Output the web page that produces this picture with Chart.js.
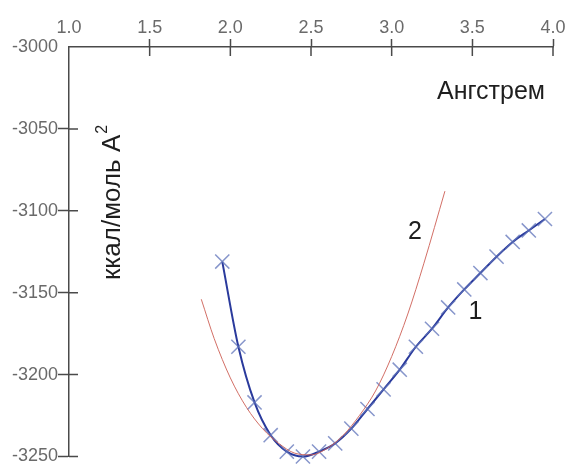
<!DOCTYPE html>
<html>
<head>
<meta charset="utf-8">
<script src="https://cdn.jsdelivr.net/npm/chart.js@4.4.1/dist/chart.umd.min.js"></script>
<style>
  html, body { margin: 0; padding: 0; background: #fff; }
  #wrap { width: 568px; height: 468px; }
</style>
</head>
<body>
<div id="wrap"><canvas id="energyChart" width="568" height="468"></canvas></div>
<script>
/*---------------------
 ----- DATA -----
 ---------------------*/
// curve 1 : calculated points (blue, x markers)
var distance1 = [1.95, 2.05, 2.15, 2.25, 2.35, 2.45, 2.55, 2.65, 2.75, 2.85, 2.95,
                 3.05, 3.15, 3.25, 3.35, 3.45, 3.55, 3.65, 3.75, 3.85, 3.95];
var energy1 = [-3131, -3183, -3217, -3237, -3247, -3250, -3247, -3242, -3233, -3221, -3209,
               -3197, -3183, -3172, -3159, -3148, -3138, -3128, -3119, -3112, -3105];

// curve 2 : fitted curve (thin red)
var distance2 = [1.82, 1.9, 2.0, 2.1, 2.2, 2.3, 2.4, 2.5, 2.6, 2.7, 2.8, 2.9, 3.0, 3.1, 3.2, 3.33];
var energy2 = [-3154, -3178, -3202, -3220, -3233, -3242, -3248, -3249, -3245, -3237, -3225,
               -3210, -3189, -3163, -3132, -3088];

var xTicks = [1.0, 1.5, 2.0, 2.5, 3.0, 3.5, 4.0];
var yTicks = [-3000, -3050, -3100, -3150, -3200, -3250];

var curveLabels = [
	{ text: '1', x: 3.52, y: -3162 },
	{ text: '2', x: 3.145, y: -3113 }
];

var axisColor = '#4a4a4a';
var tickFont = { family: 'Liberation Sans, Arial, sans-serif', size: 18 };

function toPoints(xs, ys) {
	var pts = [];
	for (var i = 0; i < xs.length; i++) {
		pts.push({ x: xs[i], y: ys[i] });
	}
	return pts;
}

/*---------------------
 ----- PLUGINS -----
 ---------------------*/
// ticks cross the axis line: draw the inner half here
var crossTicks = {
	id: 'crossTicks',
	afterDraw: function (chart) {
		var ctx = chart.ctx;
		var area = chart.chartArea;
		var xs = chart.scales.x, ys = chart.scales.y;
		ctx.save();
		ctx.strokeStyle = axisColor;
		ctx.lineWidth = 1.5;
		ctx.beginPath();
		xTicks.forEach(function (v) {
			if (v === xs.min) return;
			var px = xs.getPixelForValue(v);
			ctx.moveTo(px, area.top);
			ctx.lineTo(px, area.top + 9);
		});
		yTicks.forEach(function (v) {
			if (v === ys.max) return;
			var py = ys.getPixelForValue(v);
			ctx.moveTo(area.left, py);
			ctx.lineTo(area.left + 9, py);
		});
		ctx.stroke();
		ctx.restore();
	}
};

// axis titles and curve numbers sit inside the plot
var titles = {
	id: 'titles',
	afterDraw: function (chart) {
		var ctx = chart.ctx;
		var area = chart.chartArea;
		var xs = chart.scales.x, ys = chart.scales.y;
		ctx.save();
		ctx.fillStyle = '#1e1e1e';
		ctx.textBaseline = 'alphabetic';

		ctx.font = '25px "Liberation Sans", Arial, sans-serif';
		ctx.textAlign = 'right';
		ctx.fillText('Ангстрем', area.right - 8, area.top + 52);

		// rotated y title with superscript
		ctx.save();
		ctx.translate(area.left + 51, 280);
		ctx.rotate(-Math.PI / 2);
		ctx.textAlign = 'left';
		ctx.font = '26px "Liberation Sans", Arial, sans-serif';
		var main = 'ккал/моль A';
		ctx.fillText(main, 0, 0);
		var w = ctx.measureText(main).width;
		ctx.font = '16px "Liberation Sans", Arial, sans-serif';
		ctx.fillText('2', w + 1, -13);
		ctx.restore();

		ctx.font = '25px "Liberation Sans", Arial, sans-serif';
		ctx.textAlign = 'center';
		ctx.textBaseline = 'middle';
		curveLabels.forEach(function (l) {
			ctx.fillText(l.text, xs.getPixelForValue(l.x), ys.getPixelForValue(l.y));
		});
		ctx.restore();
	}
};

/*---------------------
 ----- LINE CHART -----
 ---------------------*/
var config = {
	type: 'line',
	data: {
		datasets: [{
			label: '2',
			data: toPoints(distance2, energy2),
			borderColor: 'rgba(205, 95, 85, 0.9)',
			borderWidth: 1,
			pointRadius: 0,
			fill: false,
			cubicInterpolationMode: 'monotone',
			clip: false
		}, {
			label: '1',
			data: toPoints(distance1, energy1),
			borderColor: '#2a3a9c',
			borderWidth: 2,
			pointStyle: 'crossRot',
			pointRadius: 10,
			pointBorderWidth: 1.5,
			pointBorderColor: 'rgba(95, 115, 185, 0.75)',
			pointBackgroundColor: 'rgba(95, 115, 185, 0.75)',
			fill: false,
			cubicInterpolationMode: 'monotone',
			clip: false
		}]
	},
	options: {
		responsive: false,
		animation: false,
		layout: { padding: { left: 0, top: 0, right: 15, bottom: 8 } },
		plugins: {
			legend: { display: false },
			tooltip: { enabled: false }
		},
		scales: {
			x: {
				type: 'linear',
				position: 'top',
				min: 1,
				max: 4,
				afterBuildTicks: function (scale) {
					scale.ticks = xTicks.map(function (v) { return { value: v }; });
				},
				afterFit: function (scale) { scale.height = 47; },
				border: { display: true, color: axisColor, width: 1.5 },
				grid: {
					drawOnChartArea: false,
					drawTicks: true,
					tickLength: 8,
					tickWidth: 1.5,
					tickColor: function (c) {
						return c.tick && c.tick.value === 1 ? 'rgba(0,0,0,0)' : axisColor;
					}
				},
				ticks: {
					font: tickFont,
					color: '#6a6a6a',
					padding: 0,
					maxRotation: 0,
					callback: function (v) { return Number(v).toFixed(1); }
				}
			},
			y: {
				type: 'linear',
				position: 'left',
				min: -3250,
				max: -3000,
				afterBuildTicks: function (scale) {
					scale.ticks = yTicks.map(function (v) { return { value: v }; });
				},
				afterFit: function (scale) { scale.width = 69; },
				border: { display: true, color: axisColor, width: 1.5 },
				grid: {
					drawOnChartArea: false,
					drawTicks: true,
					tickLength: 11,
					tickWidth: 1.5,
					tickColor: function (c) {
						return c.tick && c.tick.value === -3000 ? 'rgba(0,0,0,0)' : axisColor;
					}
				},
				ticks: {
					font: tickFont,
					color: '#6a6a6a',
					padding: 0,
					callback: function (v) { return String(v); }
				}
			}
		}
	},
	plugins: [crossTicks, titles]
};

var energyChart = new Chart(document.getElementById('energyChart').getContext('2d'), config);
</script>
</body>
</html>
